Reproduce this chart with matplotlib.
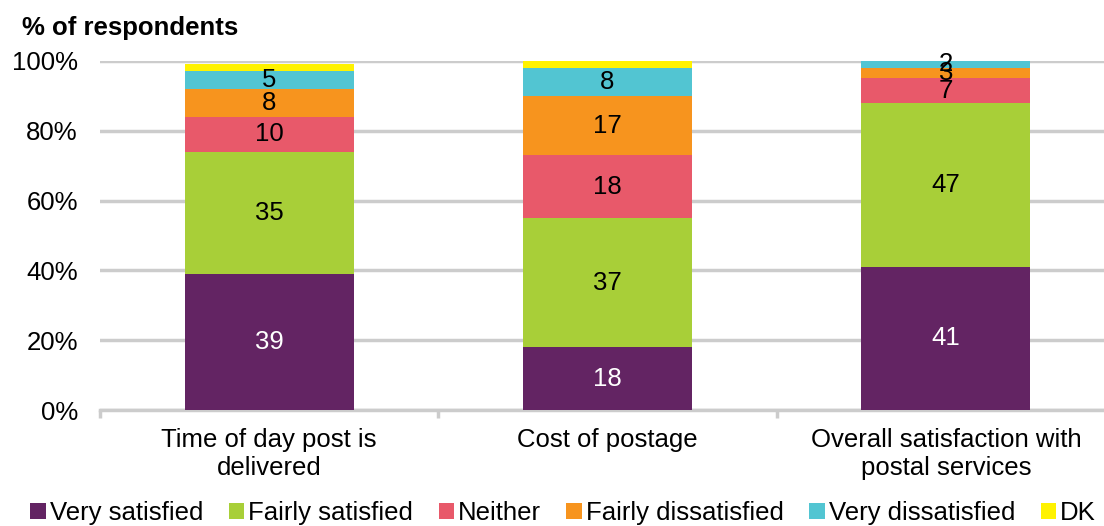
import matplotlib.pyplot as plt
import numpy as np

plt.rcParams['font.family'] = ['Liberation Sans', 'DejaVu Sans']

categories = ["Time of day post is\ndelivered", "Cost of postage",
              "Overall satisfaction with\npostal services"]
series = ["Very satisfied", "Fairly satisfied", "Neither",
          "Fairly dissatisfied", "Very dissatisfied", "DK"]
very_satisfied = [39, 18, 41]
fairly_satisfied = [35, 37, 47]
neither = [10, 18, 7]
fairly_dissatisfied = [8, 17, 3]
very_dissatisfied = [5, 8, 2]
dont_know = [2, 2, 0]

colors = ["#632463", "#a8cf38", "#e8596a", "#f7941e", "#52c5d2", "#fff200"]
label_colors = ["white", "black", "black", "black", "black", None]

values = [very_satisfied, fairly_satisfied, neither,
          fairly_dissatisfied, very_dissatisfied, dont_know]

fig = plt.figure(figsize=(11.04, 5.26), dpi=100)
ax = fig.add_axes([100 / 1104, 116 / 526, 1015 / 1104, 349 / 526])

x = np.arange(len(categories))
bottom = np.zeros(len(categories))
for name, vals, col, lc in zip(series, values, colors, label_colors):
    vals = np.array(vals, dtype=float)
    ax.bar(x, vals, 0.5, bottom=bottom, color=col, label=name, zorder=3)
    if lc is not None:
        for xi, b, v in zip(x, bottom, vals):
            if v > 0:
                ax.text(xi, b + v / 2, f"{v:g}", ha='center', va='center',
                        color=lc, fontsize=18.5, zorder=4)
    bottom += vals

ax.set_xlim(-0.5, 2.5)
ax.set_ylim(0, 100)
ax.set_yticks(range(0, 101, 20))
ax.set_yticklabels([f"{v}%" for v in range(0, 101, 20)], fontsize=18.5)
ax.yaxis.grid(True, color="#cccccc", linewidth=2.5, zorder=0)
ax.tick_params(axis='y', length=0, pad=16)

ax.set_xticks(x)
ax.set_xticklabels(categories, fontsize=18.5, linespacing=1.2)
ax.set_xticks([-0.5, 0.5, 1.5, 2.5], minor=True)
ax.tick_params(axis='x', which='major', length=0, pad=13)
ax.tick_params(axis='x', which='minor', length=6, width=2.5, color="#cccccc")

for s in ['top', 'right', 'left']:
    ax.spines[s].set_visible(False)
ax.spines['bottom'].set_color("#cccccc")
ax.spines['bottom'].set_linewidth(2.5)

fig.text(22 / 1104, 1 - 28 / 526, "% of respondents", fontsize=18.5,
         fontweight='bold', va='center', ha='left')

fig.legend(loc='center', bbox_to_anchor=(563 / 1104, 1 - 513 / 526), ncol=6,
           frameon=False, fontsize=18.5, handlelength=0.6, handleheight=0.6,
           handletextpad=0.15, columnspacing=1.0, borderaxespad=0)

fig.savefig("out.png", dpi=100)
